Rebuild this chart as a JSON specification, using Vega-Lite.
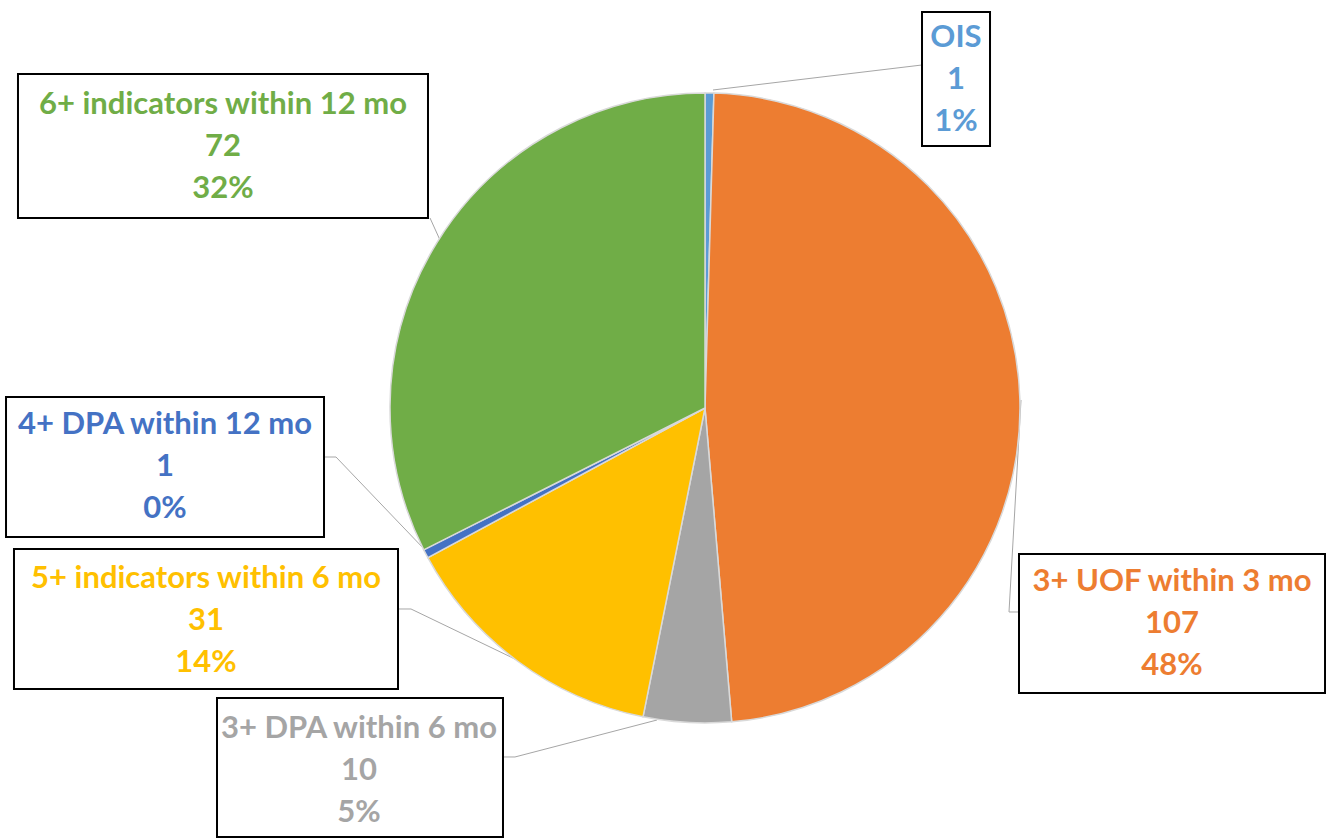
{
  "$schema": "https://vega.github.io/schema/vega-lite/v6.json",
  "width": 1326,
  "height": 838,
  "autosize": {"type": "none"},
  "padding": 0,
  "background": "white",
  "config": {"view": {"stroke": null}},
  "datasets": {
    "slices": [
      {"order": 1, "category": "OIS", "count": 1},
      {"order": 2, "category": "3+ UOF within 3 mo", "count": 107},
      {"order": 3, "category": "3+ DPA within 6 mo", "count": 10},
      {"order": 4, "category": "5+ indicators within 6 mo", "count": 31},
      {"order": 5, "category": "4+ DPA within 12 mo", "count": 1},
      {"order": 6, "category": "6+ indicators within 12 mo", "count": 72}
    ],
    "labels": [
      {"category": "OIS", "label": "OIS\n1\n1%", "tx": 79.68, "ty": 104.13, "bx1": 68.89, "bx2": 90.48, "by1": 125.71, "by2": 83.17},
      {"category": "3+ UOF within 3 mo", "label": "3+ UOF within 3 mo\n107\n48%", "tx": 148.25, "ty": -68.57, "bx1": 99.68, "bx2": 196.83, "by1": -46.35, "by2": -90.48},
      {"category": "3+ DPA within 6 mo", "label": "3+ DPA within 6 mo\n10\n5%", "tx": -109.84, "ty": -115.24, "bx1": -154.92, "bx2": -64.13, "by1": -92.06, "by2": -136.19},
      {"category": "5+ indicators within 6 mo", "label": "5+ indicators within 6 mo\n31\n14%", "tx": -158.41, "ty": -67.62, "bx1": -219.37, "bx2": -97.46, "by1": -44.76, "by2": -89.21},
      {"category": "4+ DPA within 12 mo", "label": "4+ DPA within 12 mo\n1\n0%", "tx": -171.43, "ty": -18.73, "bx1": -221.9, "bx2": -120.95, "by1": 3.49, "by2": -40.95},
      {"category": "6+ indicators within 12 mo", "label": "6+ indicators within 12 mo\n72\n32%", "tx": -153.02, "ty": 82.86, "bx1": -218.1, "bx2": -87.94, "by1": 106.03, "by2": 60.32}
    ],
    "leaders": [
      {"category": "OIS", "i": 1, "lx": 2.54, "ly": 100.95},
      {"category": "OIS", "i": 2, "lx": 68.89, "ly": 108.89},
      {"category": "3+ UOF within 3 mo", "i": 1, "lx": 100.32, "ly": 2.54},
      {"category": "3+ UOF within 3 mo", "i": 2, "lx": 96.51, "ly": -64.76},
      {"category": "3+ UOF within 3 mo", "i": 3, "lx": 99.68, "ly": -64.76},
      {"category": "3+ DPA within 6 mo", "i": 1, "lx": -15.24, "ly": -99.05},
      {"category": "3+ DPA within 6 mo", "i": 2, "lx": -60.32, "ly": -110.79},
      {"category": "3+ DPA within 6 mo", "i": 3, "lx": -64.13, "ly": -110.79},
      {"category": "5+ indicators within 6 mo", "i": 1, "lx": -59.68, "ly": -80.0},
      {"category": "5+ indicators within 6 mo", "i": 2, "lx": -93.33, "ly": -63.81},
      {"category": "5+ indicators within 6 mo", "i": 3, "lx": -97.46, "ly": -63.81},
      {"category": "4+ DPA within 12 mo", "i": 1, "lx": -88.89, "ly": -45.08},
      {"category": "4+ DPA within 12 mo", "i": 2, "lx": -117.14, "ly": -15.56},
      {"category": "4+ DPA within 12 mo", "i": 3, "lx": -120.95, "ly": -15.56},
      {"category": "6+ indicators within 12 mo", "i": 1, "lx": -84.13, "ly": 53.33},
      {"category": "6+ indicators within 12 mo", "i": 2, "lx": -87.3, "ly": 60.32}
    ]
  },
  "layer": [
    {
      "data": {"name": "leaders"},
      "mark": {"type": "line", "color": "#a6a6a6", "strokeWidth": 1},
      "encoding": {
        "x": {"field": "lx", "type": "quantitative", "scale": {"domain": [-223.81, 197.14], "nice": false, "zero": false}, "axis": null},
        "y": {"field": "ly", "type": "quantitative", "scale": {"domain": [-136.51, 129.52], "nice": false, "zero": false}, "axis": null},
        "detail": {"field": "category"},
        "order": {"field": "i"}
      }
    },
    {
      "data": {"name": "slices"},
      "mark": {"type": "arc", "outerRadius": 315, "stroke": "#d9d9d9", "strokeWidth": 1.5},
      "encoding": {
        "x": {"datum": 0, "type": "quantitative", "scale": {"domain": [-223.81, 197.14], "nice": false, "zero": false}, "axis": null},
        "y": {"datum": 0, "type": "quantitative", "scale": {"domain": [-136.51, 129.52], "nice": false, "zero": false}, "axis": null},
        "theta": {"field": "count", "type": "quantitative", "stack": true},
        "order": {"field": "order"},
        "color": {
          "field": "category",
          "type": "nominal",
          "legend": null,
          "scale": {
            "domain": ["OIS", "3+ UOF within 3 mo", "3+ DPA within 6 mo", "5+ indicators within 6 mo", "4+ DPA within 12 mo", "6+ indicators within 12 mo"],
            "range": ["#5B9BD5", "#ED7D31", "#A5A5A5", "#FFC000", "#4472C4", "#70AD47"]
          }
        }
      }
    },
    {
      "data": {"name": "labels"},
      "mark": {"type": "rect", "fill": "white", "stroke": "black", "strokeWidth": 2},
      "encoding": {
        "x": {"field": "bx1", "type": "quantitative", "scale": {"domain": [-223.81, 197.14], "nice": false, "zero": false}, "axis": null},
        "x2": {"field": "bx2"},
        "y": {"field": "by1", "type": "quantitative", "scale": {"domain": [-136.51, 129.52], "nice": false, "zero": false}, "axis": null},
        "y2": {"field": "by2"}
      }
    },
    {
      "data": {"name": "labels"},
      "mark": {"type": "text", "font": "Lato", "fontWeight": "bold", "fontSize": 31, "lineHeight": 42, "lineBreak": "\n", "align": "center", "baseline": "middle", "dy": -42},
      "encoding": {
        "x": {"field": "tx", "type": "quantitative", "scale": {"domain": [-223.81, 197.14], "nice": false, "zero": false}, "axis": null},
        "y": {"field": "ty", "type": "quantitative", "scale": {"domain": [-136.51, 129.52], "nice": false, "zero": false}, "axis": null},
        "text": {"field": "label"},
        "color": {
          "field": "category",
          "type": "nominal",
          "legend": null,
          "scale": {
            "domain": ["OIS", "3+ UOF within 3 mo", "3+ DPA within 6 mo", "5+ indicators within 6 mo", "4+ DPA within 12 mo", "6+ indicators within 12 mo"],
            "range": ["#5B9BD5", "#ED7D31", "#A5A5A5", "#FFC000", "#4472C4", "#70AD47"]
          }
        }
      }
    }
  ]
}
